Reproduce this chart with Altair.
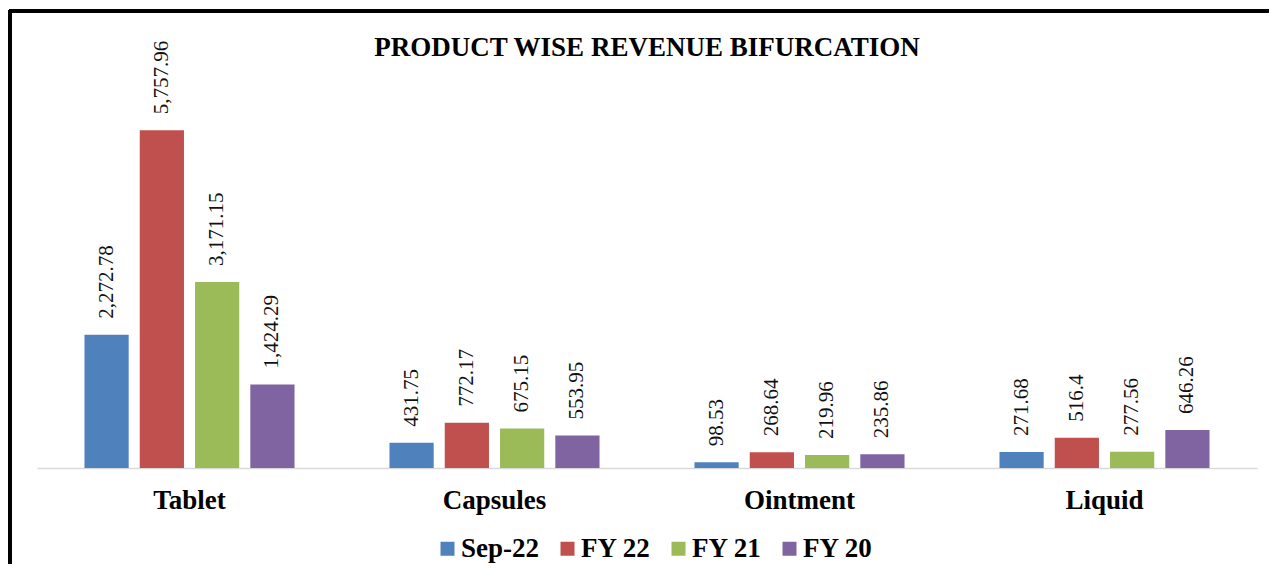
import altair as alt
import pandas as pd

products = ["Tablet", "Capsules", "Ointment", "Liquid"]
series = ["Sep-22", "FY 22", "FY 21", "FY 20"]
sep22 = [2272.78, 431.75, 98.53, 271.68]
fy22 = [5757.96, 772.17, 268.64, 516.4]
fy21 = [3171.15, 675.15, 219.96, 277.56]
fy20 = [1424.29, 553.95, 235.86, 646.26]
colors = ["#4F81BD", "#C0504D", "#9BBB59", "#8064A2"]

rows = []
for s, vals in zip(series, [sep22, fy22, fy21, fy20]):
    for p, v in zip(products, vals):
        rows.append({"product": p, "series": s, "value": v, "label": f"{v:,}"})
df = pd.DataFrame(rows)

SERIF = "Liberation Serif"

x = alt.X("product:N", sort=products, title=None,
          scale=alt.Scale(paddingInner=0.275, paddingOuter=0.1375),
          axis=alt.Axis(labelAngle=0, ticks=False, domainColor="#d9d9d9", domainWidth=1.5,
                        labelFont=SERIF, labelFontSize=27, labelFontWeight="bold",
                        labelColor="black", labelPadding=19, labelBaseline="top"))
xo = alt.XOffset("series:N", sort=series,
                 scale=alt.Scale(paddingInner=0.2, paddingOuter=0.1))
y = alt.Y("value:Q", stack=None, axis=None,
          scale=alt.Scale(domain=[0, 6000], nice=False))

base = alt.Chart(df)

bars = base.mark_bar().encode(
    x=x, xOffset=xo, y=y,
    color=alt.Color("series:N", sort=series,
                    scale=alt.Scale(domain=series, range=colors),
                    legend=alt.Legend(title=None, orient="none", legendX=397, legendY=419,
                                      direction="horizontal", columns=4,
                                      symbolType="square", symbolSize=196,
                                      symbolStrokeWidth=0, labelFont=SERIF,
                                      labelFontSize=27, labelFontWeight="bold",
                                      labelColor="black", columnPadding=14,
                                      labelOffset=0, padding=0)),
)

labels = base.mark_text(angle=270, align="left", baseline="middle", dx=16,
                        font=SERIF, fontSize=21, color="#111111").encode(
    x=x, xOffset=xo, y=y, text="label:N"
)

border_left = alt.Chart(df).mark_rule(color="black", strokeWidth=2.5).encode(
    x=alt.value(-27), y=alt.value(-106), y2=alt.value(460))
border_top = alt.Chart(df).mark_rule(color="black", strokeWidth=2.5).encode(
    x=alt.value(-28), x2=alt.value(1260), y=alt.value(-105))

chart = alt.layer(bars, labels, border_left, border_top).properties(
    width=1220, height=352,
    autosize=alt.AutoSizeParams(type="none"),
    padding={"left": 29, "top": 108, "right": 12, "bottom": 96},
    title=alt.Title("PRODUCT WISE REVENUE BIFURCATION", font=SERIF, fontSize=27,
                    fontWeight="bold", color="black", anchor="middle",
                    frame="group", offset=-53),
).configure_view(stroke=None)

chart.save("out.html", embed_options={"renderer": "svg", "actions": False})
